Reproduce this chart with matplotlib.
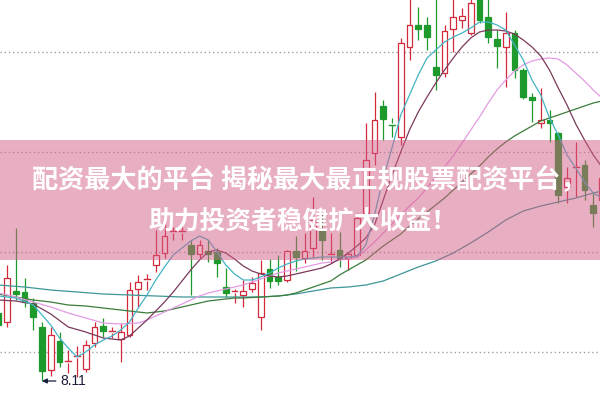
import matplotlib
matplotlib.use("Agg")
import matplotlib.pyplot as plt
from matplotlib.patches import Rectangle

# 日K线数据
opens = [8.79, 8.70, 9.01, 9.00, 8.89, 8.65, 8.22, 8.51, 8.29, 8.34,
         8.23, 8.49, 8.66, 8.59, 8.53, 8.57, 9.03, 9.11, 9.27, 9.39,
         9.59, 9.59, 9.47, 9.38, 9.41, 9.40, 9.05, 8.99, 8.97, 9.03,
         8.75, 9.23, 9.15, 9.12, 9.41, 9.34, 9.44, 9.62, 9.36, 9.42,
         9.34, 9.37, 9.79, 10.39, 10.86, 10.69, 10.55, 11.45, 11.67, 11.67,
         11.25, 11.19, 11.63, 11.72, 11.59, 12.00, 11.75, 11.53, 11.45, 11.59,
         11.22, 10.95, 10.69, 10.72, 10.59, 10.05, 10.23, 10.27, 9.87, 9.92]
highs = [8.84, 9.27, 9.64, 9.14, 8.94, 8.70, 8.65, 8.60, 8.42, 8.46,
         8.52, 8.70, 8.74, 8.65, 8.69, 9.10, 9.17, 9.18, 9.62, 9.77,
         9.65, 9.67, 9.52, 9.52, 9.52, 9.44, 9.24, 9.03, 9.12, 9.15,
         9.32, 9.33, 9.37, 9.42, 9.56, 9.59, 9.95, 9.79, 9.59, 9.60,
         9.40, 9.79, 10.69, 11.00, 10.92, 10.74, 11.54, 11.97, 11.85, 11.75,
         11.97, 11.67, 11.97, 11.84, 11.97, 12.02, 11.97, 11.62, 11.80, 11.62,
         11.24, 10.99, 11.04, 10.82, 10.60, 10.25, 10.50, 10.32, 9.99, 10.22]
lows = [8.62, 8.65, 8.92, 8.85, 8.62, 8.11, 8.16, 8.25, 8.19, 8.15,
        8.20, 8.45, 8.55, 8.54, 8.30, 8.55, 8.85, 9.02, 9.20, 9.34,
        9.52, 9.52, 8.97, 9.34, 9.30, 9.15, 8.95, 8.89, 8.85, 9.00,
        8.62, 9.04, 9.07, 9.10, 9.21, 9.29, 9.35, 9.32, 9.29, 9.25,
        9.22, 9.35, 9.75, 10.27, 10.52, 10.55, 10.47, 11.32, 11.52, 11.42,
        11.02, 11.15, 11.40, 11.64, 11.57, 11.69, 11.49, 11.24, 11.05, 11.14,
        10.93, 10.70, 10.64, 10.50, 9.89, 9.89, 9.95, 9.92, 9.65, 9.82]
closes = [8.67, 9.14, 8.98, 8.90, 8.75, 8.21, 8.57, 8.30, 8.31, 8.36,
          8.47, 8.65, 8.61, 8.61, 8.60, 9.02, 9.10, 9.13, 9.37, 9.56,
          9.61, 9.61, 9.38, 9.47, 9.38, 9.29, 8.99, 9.01, 9.01, 9.09,
          9.19, 9.11, 9.11, 9.41, 9.35, 9.41, 9.72, 9.52, 9.38, 9.34,
          9.38, 9.74, 10.32, 10.72, 10.73, 10.67, 11.49, 11.67, 11.63, 11.55,
          11.17, 11.61, 11.75, 11.76, 11.89, 11.72, 11.55, 11.46, 11.59, 11.22,
          10.95, 10.92, 10.72, 10.69, 9.97, 10.14, 10.25, 10.02, 9.79, 10.14]

# 均线
ma5_x = [0, 2, 4, 5, 6, 7, 8, 9, 10, 11, 12, 13, 14, 15, 16, 17, 18, 19, 20, 21,
         22, 23, 24, 25, 26, 27, 28, 29, 30, 31, 32, 33, 34, 35, 36, 37, 38, 39, 40, 41,
         42, 43, 44, 45, 46, 47, 48, 49, 50, 51, 52, 53, 54, 55, 56, 57, 58, 59, 60, 61,
         62, 63, 64, 65, 66, 67, 68, 69]
ma5 = [8.96, 8.94, 8.87, 8.77, 8.67, 8.54, 8.44, 8.35, 8.40, 8.47, 8.52, 8.56, 8.62, 8.70, 8.84, 8.97, 9.12, 9.25, 9.37, 9.44,
       9.51, 9.56, 9.52, 9.40, 9.27, 9.18, 9.12, 9.12, 9.15, 9.19, 9.24, 9.28, 9.31, 9.33, 9.34, 9.35, 9.35, 9.35, 9.35, 9.36,
       9.47, 9.77, 10.14, 10.44, 10.77, 10.97, 11.17, 11.34, 11.42, 11.50, 11.55, 11.59, 11.64, 11.70, 11.70, 11.67, 11.62, 11.47, 11.32, 11.12,
       10.97, 10.74, 10.57, 10.37, 10.24, 10.10, 9.99, 9.94]

ma10_x = [0, 2, 4, 6, 8, 10, 12, 14, 15, 16, 17, 18, 19, 20, 21, 22, 23, 24, 25, 26,
          27, 28, 29, 30, 31, 32, 33, 34, 35, 36, 37, 38, 39, 40, 41, 42, 43, 44, 45, 46,
          47, 48, 49, 50, 51, 52, 53, 54, 55, 56, 57, 58, 59, 60, 61, 62, 63, 64, 65, 66,
          67, 68, 69]
ma10 = [8.92, 8.91, 8.88, 8.78, 8.65, 8.60, 8.54, 8.52, 8.56, 8.64, 8.72, 8.81, 8.90, 9.00, 9.11, 9.22, 9.32, 9.40, 9.42, 9.39,
        9.33, 9.26, 9.21, 9.18, 9.16, 9.15, 9.16, 9.18, 9.20, 9.22, 9.24, 9.28, 9.33, 9.39, 9.46, 9.54, 9.67, 9.92, 10.17, 10.40,
        10.62, 10.80, 10.95, 11.09, 11.22, 11.34, 11.45, 11.54, 11.60, 11.62, 11.62, 11.61, 11.58, 11.52, 11.45, 11.36, 11.22, 11.04, 10.87, 10.68,
        10.52, 10.37, 10.25]

ma20_x = [0, 2, 4, 6, 8, 10, 12, 14, 16, 17, 18, 19, 20, 21, 22, 23, 24, 25, 26, 27,
          28, 29, 30, 31, 32, 33, 34, 35, 36, 37, 38, 39, 40, 41, 42, 43, 44, 45, 46, 47,
          48, 49, 50, 51, 52, 53, 54, 55, 56, 57, 58, 59, 60, 61, 62, 63, 64, 65, 66, 67,
          68, 69]
ma20 = [8.99, 8.95, 8.90, 8.85, 8.79, 8.74, 8.69, 8.68, 8.69, 8.72, 8.76, 8.80, 8.84, 8.88, 8.92, 8.96, 8.99, 9.01, 9.03, 9.05,
        9.07, 9.10, 9.13, 9.16, 9.19, 9.21, 9.23, 9.25, 9.27, 9.29, 9.30, 9.32, 9.33, 9.35, 9.42, 9.50, 9.59, 9.68, 9.77, 9.86,
        9.94, 10.04, 10.15, 10.25, 10.36, 10.49, 10.62, 10.75, 10.89, 11.02, 11.12, 11.21, 11.27, 11.31, 11.33, 11.34, 11.33, 11.27, 11.19, 11.11,
        11.02, 10.94]

ma30_x = [0, 2, 4, 6, 8, 10, 12, 14, 16, 17, 18, 19, 20, 21, 22, 23, 24, 25, 26, 27,
          28, 30, 32, 33, 34, 35, 36, 37, 38, 39, 40, 41, 42, 43, 44, 45, 46, 47, 48, 49,
          50, 51, 52, 53, 54, 55, 56, 57, 58, 59, 60, 61, 62, 63, 64, 65, 66, 67, 68, 69]
ma30 = [8.98, 8.95, 8.92, 8.90, 8.87, 8.86, 8.84, 8.82, 8.80, 8.79, 8.80, 8.81, 8.83, 8.85, 8.87, 8.89, 8.91, 8.92, 8.93, 8.94,
        8.94, 8.95, 8.96, 8.97, 8.99, 9.02, 9.05, 9.08, 9.11, 9.17, 9.22, 9.27, 9.32, 9.39, 9.46, 9.52, 9.58, 9.66, 9.73, 9.80,
        9.87, 9.94, 10.02, 10.10, 10.18, 10.26, 10.35, 10.43, 10.50, 10.56, 10.61, 10.66, 10.71, 10.74, 10.77, 10.80, 10.83, 10.86, 10.89, 10.91]

ma60_x = [0, 3, 6, 9, 12, 15, 18, 21, 24, 27, 30, 32, 34, 36, 38, 40, 42, 44, 46, 48,
          50, 52, 54, 56, 58, 60, 62, 64, 66, 68, 69]
ma60 = [9.07, 9.05, 9.02, 9.00, 8.98, 8.97, 8.96, 8.95, 8.95, 8.95, 8.95, 8.96, 8.98, 9.01, 9.04, 9.05, 9.07, 9.11, 9.18, 9.25,
        9.31, 9.39, 9.49, 9.60, 9.72, 9.81, 9.86, 9.90, 9.94, 9.99, 10.01]

grid_levels = [8.40, 9.40, 10.40, 11.40]
band_low, band_high = 9.32, 10.52
title_line1 = "配资最大的平台 揭秘最大最正规股票配资平台，"
title_line2 = "助力投资者稳健扩大收益！"

UP = "#d4283c"
DOWN = "#1e9a2c"

fig = plt.figure(figsize=(6, 4), dpi=100)
ax = fig.add_axes([0, 0, 1, 1])

# K线
w = 0.68
for i, (o, h, l, c) in enumerate(zip(opens, highs, lows, closes)):
    up = c >= o
    col = UP if up else DOWN
    bottom, top = min(o, c), max(o, c)
    ax.plot([i, i], [top, h], color=col, lw=0.9, zorder=2, solid_capstyle="butt")
    ax.plot([i, i], [l, bottom], color=col, lw=0.9, zorder=2, solid_capstyle="butt")
    if top - bottom < 0.025:
        ax.plot([i - w / 2, i + w / 2], [c, c], color=col, lw=1.0, zorder=2)
    else:
        ax.add_patch(Rectangle((i - w / 2, bottom), w, top - bottom,
                               facecolor="white" if up else col, edgecolor=col,
                               lw=0.9, zorder=2))

# 均线
ax.plot(ma60_x, ma60, color="#3e9696", lw=0.9, zorder=3)
ax.plot(ma30_x, ma30, color="#3b7d3b", lw=0.9, zorder=3)
ax.plot(ma20_x, ma20, color="#e49be4", lw=0.9, zorder=3)
ax.plot(ma10_x, ma10, color="#7a3a5c", lw=0.9, zorder=3)
ax.plot(ma5_x, ma5, color="#44b4c4", lw=0.9, zorder=3)

# 最低点标注
low_i = lows.index(min(lows))
ax.annotate(f"{min(lows):.2f}", xy=(low_i, min(lows)), xytext=(18, 0),
            textcoords="offset pixels", ha="left", va="center",
            fontsize=10, family="Liberation Sans", color="#1a1a3a",
            arrowprops=dict(arrowstyle="-|>", color="#1a1a3a", lw=0.9,
                            mutation_scale=7, shrinkA=1, shrinkB=0),
            zorder=4)

# 网格
ax.set_yticks(grid_levels)
ax.grid(True, axis="y", color="#a0a0a0", linestyle=(0, (1, 2)), lw=1)
ax.tick_params(length=0, labelleft=False, labelbottom=False)
ax.set_xticks([])
for s in ax.spines.values():
    s.set_visible(False)

ax.set_xlim(0.2, 68.77)
ax.set_ylim(7.92, 11.92)

# 粉色横幅
ax.axhspan(band_low, band_high, color="#d35f87", alpha=0.5, lw=0, zorder=5)
fig.text(0.515, 1 - 181 / 400, title_line1, ha="center", va="center",
         fontsize=18.8, fontweight="bold", color="white",
         family=["Noto Sans CJK SC", "DejaVu Sans"], zorder=6)
fig.text(0.505, 1 - 221 / 400, title_line2, ha="center", va="center",
         fontsize=18.5, fontweight="bold", color="white",
         family=["Noto Sans CJK SC", "DejaVu Sans"], zorder=6)

fig.savefig("out.png", dpi=100)
